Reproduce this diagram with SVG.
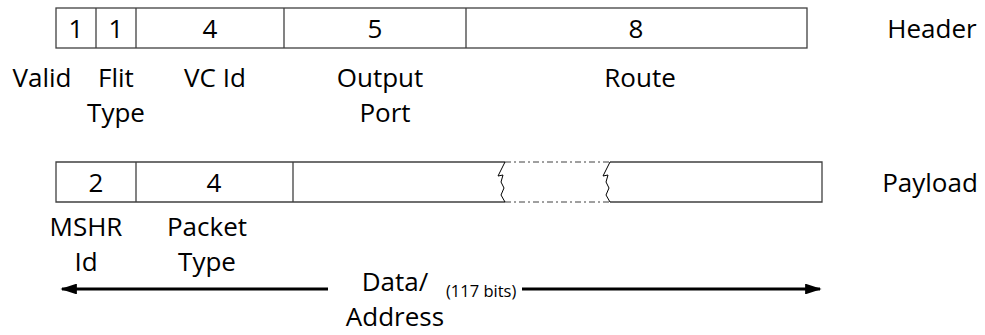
<svg xmlns="http://www.w3.org/2000/svg" width="985" height="335" viewBox="0 0 985 335">
  <style>
    .cell { fill: #fff; stroke: #404040; stroke-width: 1.3; }
    .div { stroke: #404040; stroke-width: 1.3; }
    .t { font-family: "Open Sans", "Liberation Sans", sans-serif; font-size: 26px; fill: #000; text-anchor: middle; }
    .s { font-family: "Open Sans", "Liberation Sans", sans-serif; font-size: 16.5px; fill: #000; }
    .zig { fill: none; stroke: #000; stroke-width: 1; }
    .gap { stroke: #404040; stroke-width: 1; stroke-dasharray: 6 3 2 3; }
    .arrow { stroke: #000; stroke-width: 3; }
  </style>
  <defs>
    <marker id="head" viewBox="0 0 10 10" refX="9" refY="5" markerWidth="5.5" markerHeight="3.6" orient="auto" markerUnits="strokeWidth" preserveAspectRatio="none">
      <path d="M0,0 L10,5 L0,10 z" fill="#000"/>
    </marker>
  </defs>

  <!-- Header flit -->
  <g id="header">
    <rect class="cell" x="56" y="8" width="751" height="40"/>
    <line class="div" x1="96" y1="8" x2="96" y2="48"/>
    <line class="div" x1="136" y1="8" x2="136" y2="48"/>
    <line class="div" x1="284" y1="8" x2="284" y2="48"/>
    <line class="div" x1="466" y1="8" x2="466" y2="48"/>
    <text class="t" x="76" y="38">1</text>
    <text class="t" x="116" y="38">1</text>
    <text class="t" x="210" y="38">4</text>
    <text class="t" x="375" y="38">5</text>
    <text class="t" x="636" y="38">8</text>
    <text class="t" x="932" y="38">Header</text>
  </g>
  <g id="header-labels">
    <text class="t" x="42" y="87">Valid</text>
    <text class="t" x="116" y="87">Flit</text>
    <text class="t" x="116" y="122">Type</text>
    <text class="t" x="215" y="87">VC Id</text>
    <text class="t" x="380" y="87">Output</text>
    <text class="t" x="385" y="122">Port</text>
    <text class="t" x="640" y="87">Route</text>
  </g>

  <!-- Payload flit, with a break in the data field -->
  <g id="payload">
    <path class="cell" d="M505,162 H56 V202 H505"/>
    <path class="cell" d="M610,162 H822 V202 H610"/>
    <line class="div" x1="136" y1="162" x2="136" y2="202"/>
    <line class="div" x1="293" y1="162" x2="293" y2="202"/>
    <line class="gap" x1="505" y1="162" x2="610" y2="162"/>
    <line class="gap" x1="505" y1="202" x2="610" y2="202"/>
    <path class="zig" d="M505,162 L498,176 L503,175 L501,182 L504,188 L501,195 L505,202"/>
    <path class="zig" d="M610,162 L603,176 L608,175 L606,182 L609,188 L606,195 L610,202"/>
    <text class="t" x="96" y="192">2</text>
    <text class="t" x="214" y="192">4</text>
    <text class="t" x="930" y="192">Payload</text>
  </g>
  <g id="payload-labels">
    <text class="t" x="86" y="236">MSHR</text>
    <text class="t" x="86" y="271">Id</text>
    <text class="t" x="207" y="236">Packet</text>
    <text class="t" x="207" y="271">Type</text>
    <text class="t" x="395" y="291">Data/</text>
    <text class="t" x="395" y="326">Address</text>
    <text class="s" x="446" y="297">(117 bits)</text>
  </g>

  <!-- Data/Address span arrows -->
  <g id="connectors">
    <line class="arrow" x1="328" y1="289" x2="62" y2="289" marker-end="url(#head)"/>
    <line class="arrow" x1="522" y1="289" x2="820" y2="289" marker-end="url(#head)"/>
  </g>
</svg>
